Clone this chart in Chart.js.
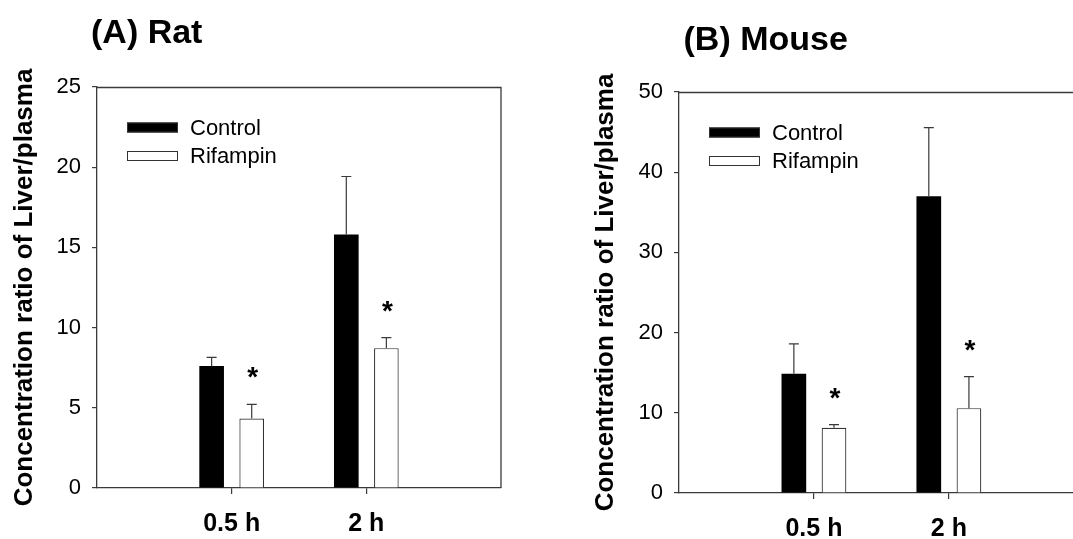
<!DOCTYPE html>
<html>
<head>
<meta charset="utf-8">
<script src="https://cdn.jsdelivr.net/npm/chart.js@4/dist/chart.umd.min.js"></script>
<style>
  html, body { margin: 0; padding: 0; background: #fff; overflow: hidden; }
  #page { position: relative; width: 1073px; height: 539px; overflow: hidden; }
  #page canvas { position: absolute; top: 0; }
  #ratCanvas { left: 0; }
  #mouseCanvas { left: 540px; }
</style>
</head>
<body>
<div id="page">
  <canvas id="ratCanvas" width="540" height="539"></canvas>
  <canvas id="mouseCanvas" width="533" height="539"></canvas>
</div>
<script>
// time points sit at x = 1 and x = 2 on a 0..3 axis
const timeLabels = ["0.5 h", "2 h"];
const seriesNames = ["Control", "Rifampin"];

const ratControl = [7.6, 15.8];
const ratControlErr = [0.54, 3.62];
const ratRifampin = [4.33, 8.72];
const ratRifampinErr = [0.88, 0.66];
const ratStars = [true, true];
const ratTicks = [0, 5, 10, 15, 20, 25];

const mouseControl = [14.87, 37.0];
const mouseControlErr = [3.72, 8.57];
const mouseRifampin = [8.14, 10.58];
const mouseRifampinErr = [0.39, 3.94];
const mouseStars = [true, true];
const mouseTicks = [0, 10, 20, 30, 40, 50];

const FONT = "'Liberation Sans', Arial, sans-serif";
const LINE = "#3a3a3a";
Chart.defaults.font.family = FONT;
Chart.defaults.color = "#000";

const points = (vals) => vals.map((v, i) => ({ x: i + 1, y: v }));

// error bars, asterisks, frame, legend and panel heading
const panelDecor = {
  id: "panelDecor",
  afterDatasetsDraw(chart, args, opts) {
    const { ctx, chartArea: a, scales: { y } } = chart;
    ctx.save();

    // one-sided error bars with caps
    ctx.strokeStyle = LINE;
    ctx.lineWidth = 1.2;
    chart.data.datasets.forEach((ds, i) => {
      chart.getDatasetMeta(i).data.forEach((bar, j) => {
        const top = y.getPixelForValue(ds.data[j].y + ds.errors[j]);
        ctx.beginPath();
        ctx.moveTo(bar.x, bar.y);
        ctx.lineTo(bar.x, top);
        ctx.moveTo(bar.x - 5, top);
        ctx.lineTo(bar.x + 5, top);
        ctx.stroke();
        if (ds.stars && ds.stars[j]) {
          ctx.fillStyle = "#000";
          ctx.font = "bold 28px " + FONT;
          ctx.textAlign = "center";
          ctx.textBaseline = "alphabetic";
          ctx.fillText("*", bar.x + 1, top - 18);
        }
      });
    });

    // top side of the frame, plus the right side unless the frame runs off the edge
    ctx.strokeStyle = LINE;
    ctx.lineWidth = 1.3;
    ctx.beginPath();
    ctx.moveTo(a.left, Math.round(a.top) + 0.5);
    ctx.lineTo(a.right, Math.round(a.top) + 0.5);
    if (!opts.openRight) ctx.lineTo(a.right, a.bottom);
    ctx.stroke();

    // legend inside the plot
    const lx = a.left + 30, ly = a.top + 35.5;
    chart.data.datasets.forEach((ds, i) => {
      const top = ly + i * 28.5;
      ctx.fillStyle = ds.backgroundColor;
      ctx.fillRect(lx, top, 51, 10);
      ctx.strokeStyle = "#333";
      ctx.lineWidth = 1;
      ctx.strokeRect(lx + 0.5, top + 0.5, 50, 9);
      ctx.fillStyle = "#000";
      ctx.font = "22px " + FONT;
      ctx.textAlign = "left";
      ctx.textBaseline = "middle";
      ctx.fillText(ds.label, lx + 63, top + 6);
    });

    // panel heading
    ctx.font = "bold 34px " + FONT;
    ctx.textAlign = "left";
    ctx.textBaseline = "alphabetic";
    ctx.fillText(opts.heading, a.left + opts.headingShift, a.top - opts.headingRise);
    ctx.restore();
  }
};

function drawPanel(canvasId, p) {
  return new Chart(document.getElementById(canvasId), {
    type: "bar",
    data: {
      datasets: [
        {
          label: seriesNames[0],
          data: points(p.control),
          errors: p.controlErr,
          backgroundColor: "#000",
          borderColor: "#000",
          borderWidth: 0,
        },
        {
          label: seriesNames[1],
          data: points(p.rifampin),
          errors: p.rifampinErr,
          stars: p.stars,
          backgroundColor: "#fff",
          borderColor: "#333",
          borderWidth: 1.2,
        },
      ],
    },
    options: {
      responsive: false,
      animation: false,
      events: [],
      categoryPercentage: 0.595,
      barPercentage: 0.615,
      layout: { padding: { left: 0, top: p.padTop, right: p.padRight, bottom: 0 } },
      plugins: {
        legend: { display: false },
        tooltip: { enabled: false },
        panelDecor: {
          heading: p.heading, headingShift: p.headingShift, headingRise: p.headingRise,
          openRight: p.openRight,
        },
      },
      scales: {
        x: {
          type: "linear",
          min: 0,
          max: p.xMax,
          offset: false,
          afterBuildTicks: (s) => { s.ticks = timeLabels.map((_, i) => ({ value: i + 1 })); },
          grid: { offset: false, drawOnChartArea: false, tickLength: 6, lineWidth: 1.2, color: LINE },
          border: { color: LINE, width: 1.3 },
          ticks: {
            autoSkip: false,
            maxRotation: 0,
            padding: 15,
            color: "#000",
            font: { size: 25, weight: "bold" },
            callback: (v) => timeLabels[v - 1],
          },
          afterFit: (s) => {
            s.height = p.xHeight;
            s.paddingLeft = 0;
            s.paddingRight = 0;
          },
        },
        y: {
          min: 0,
          max: p.ticks[p.ticks.length - 1],
          afterBuildTicks: (s) => { s.ticks = p.ticks.map((v) => ({ value: v })); },
          grid: { drawOnChartArea: false, tickLength: 5, color: LINE, lineWidth: 1.2 },
          border: { color: LINE, width: 1.3 },
          ticks: { padding: 11, color: "#000", font: { size: 22 } },
          title: {
            display: true,
            text: "Concentration ratio of Liver/plasma",
            color: "#000",
            font: { size: 26, weight: "bold" },
            padding: { top: p.yTitlePad, bottom: 0 },
          },
          afterFit: (s) => { s.width = p.axisWidth; },
        },
      },
    },
    plugins: [panelDecor],
  });
}

drawPanel("ratCanvas", {
  heading: "(A) Rat", headingShift: -6, headingRise: 44,
  control: ratControl, controlErr: ratControlErr,
  rifampin: ratRifampin, rifampinErr: ratRifampinErr,
  stars: ratStars, ticks: ratTicks, xMax: 3,
  axisWidth: 97, padTop: 87, padRight: 39, xHeight: 51, yTitlePad: 9,
});

// the mouse frame is cut by the right edge, so its axis stops short of 3
drawPanel("mouseCanvas", {
  heading: "(B) Mouse", headingShift: 4.5, headingRise: 42,
  control: mouseControl, controlErr: mouseControlErr,
  rifampin: mouseRifampin, rifampinErr: mouseRifampinErr,
  stars: mouseStars, ticks: mouseTicks, xMax: 2.92, openRight: true,
  axisWidth: 139, padTop: 92, padRight: 0, xHeight: 46, yTitlePad: 50,
});
</script>
</body>
</html>
